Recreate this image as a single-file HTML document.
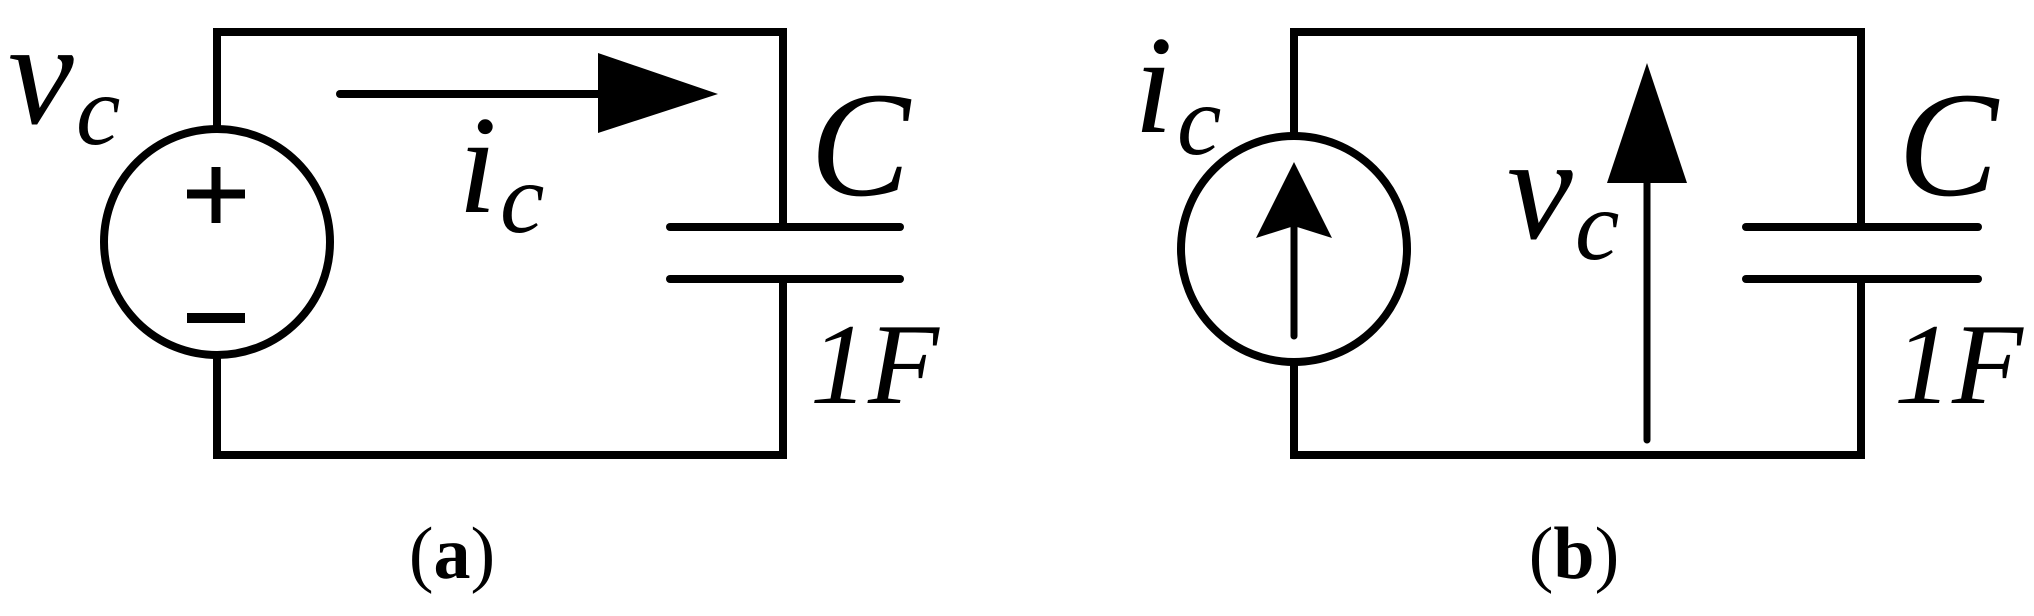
<!DOCTYPE html>
<html><head><meta charset="utf-8"><style>html,body{margin:0;padding:0;background:#fff}svg{display:block}</style></head>
<body>
<svg width="2034" height="616" viewBox="0 0 2034 616" xmlns="http://www.w3.org/2000/svg">
<g stroke="#000" stroke-width="8" fill="none" stroke-linecap="square">
  <!-- panel a -->
  <polyline points="217,128 217,32 783,32 783,227"/>
  <polyline points="217,357 217,455 783,455 783,279"/>
  <circle cx="217" cy="242" r="113"/>
  <line x1="670" y1="227" x2="900" y2="227" stroke-linecap="round"/>
  <line x1="670" y1="279" x2="900" y2="279" stroke-linecap="round"/>
  <line x1="340" y1="94" x2="600" y2="94" stroke-linecap="round"/>
  <line x1="216" y1="167" x2="216" y2="223" stroke-width="9" stroke-linecap="butt"/>
  <line x1="187" y1="194" x2="245" y2="194" stroke-width="9" stroke-linecap="butt"/>
  <line x1="187" y1="318" x2="245" y2="318" stroke-width="10" stroke-linecap="butt"/>
  <!-- panel b -->
  <polyline points="1294,135 1294,32 1861,32 1861,227"/>
  <polyline points="1294,363 1294,455 1861,455 1861,279"/>
  <circle cx="1294" cy="249" r="113"/>
  <line x1="1746" y1="227" x2="1978" y2="227" stroke-linecap="round"/>
  <line x1="1746" y1="279" x2="1978" y2="279" stroke-linecap="round"/>
  <line x1="1294" y1="336" x2="1294" y2="225" stroke-width="7" stroke-linecap="round"/>
  <line x1="1647" y1="440" x2="1647" y2="180" stroke-width="7" stroke-linecap="round"/>
</g>
<g fill="#000">
  <polygon points="598,53 718,94 598,133"/>
  <polygon points="1294,162 1332,238 1294,226 1256,238"/>
  <polygon points="1647,63 1687,183 1607,183"/>
</g>
<g font-family="Liberation Serif, serif" font-style="italic" fill="#000">
  <text x="8" y="123" font-size="148">v</text>
  <text x="76" y="144" font-size="100">c</text>
  <text x="458" y="212" font-size="140">i</text>
  <text x="500" y="232" font-size="100">c</text>
  <text x="810" y="195" font-size="150">C</text>
  <text x="810" y="403" font-size="116">1F</text>
  <text x="1134" y="132" font-size="140">i</text>
  <text x="1177" y="154" font-size="100">c</text>
  <text x="1507" y="238" font-size="148">v</text>
  <text x="1575" y="259" font-size="100">c</text>
  <text x="1898" y="195" font-size="150">C</text>
  <text x="1894" y="403" font-size="116">1F</text>
</g>
<g font-family="Liberation Serif, serif" fill="#000" font-size="74" text-anchor="middle">
  <text x="452" y="578">(<tspan font-weight="bold">a</tspan>)</text>
  <text x="1574" y="578">(<tspan font-weight="bold">b</tspan>)</text>
</g>
</svg>
</body></html>
